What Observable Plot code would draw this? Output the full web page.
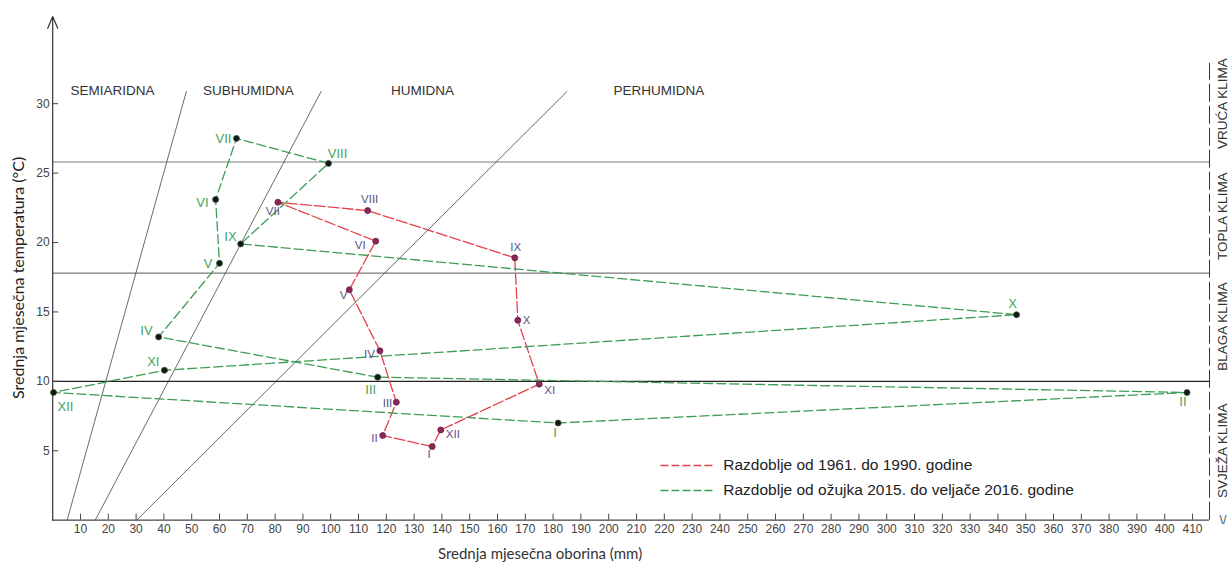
<!DOCTYPE html>
<html><head><meta charset="utf-8">
<script src="https://cdn.jsdelivr.net/npm/d3@7"></script>
<script src="https://cdn.jsdelivr.net/npm/@observablehq/plot@0.6"></script>
<style>body{margin:0;background:#fff} svg{display:block}</style>
</head><body><div id="chart"></div>
<script>
// ---- data ----
const refMonths = ["I","II","III","IV","V","VI","VII","VIII","IX","X","XI","XII"];
const refPrecip = [136.5, 118.7, 123.6, 117.7, 106.7, 116.2, 81.0, 113.3, 166.2, 167.3, 175.0, 139.6];
const refTemp   = [5.3, 6.1, 8.5, 12.2, 16.6, 20.1, 22.9, 22.3, 18.9, 14.4, 9.8, 6.5];

const curMonths = ["III","IV","V","VI","VII","VIII","IX","X","XI","XII","I","II"];
const curPrecip = [116.9, 38.1, 60.0, 58.6, 66.1, 99.2, 67.6, 346.7, 40.2, 0.3, 181.8, 408.0];
const curTemp   = [10.3, 13.2, 18.5, 23.1, 27.5, 25.7, 19.9, 14.8, 10.8, 9.2, 7.0, 9.2];

const tempBoundsGray = [25.8, 17.8];
const tempBoundBlack = [10];
const zoneLineP0 = [5.2, 15.3, 30.2];
const zoneLineP1 = [48.1, 96.6, 185.1];
const zoneLineTopT = 30.9;
const zoneNames = ["SEMIARIDNA", "SUBHUMIDNA", "HUMIDNA", "PERHUMIDNA"];
const climateNames = ["VRUĆA KLIMA", "TOPLA KLIMA", "BLAGA KLIMA", "SVJEŽA KLIMA"];
const xTicks = d3.range(10, 411, 10);
const yTicks = [5, 10, 15, 20, 25, 30];
const legendNames = ["Razdoblje od 1961. do 1990. godine", "Razdoblje od ožujka 2015. do veljače 2016. godine"];
const xTitle = "Srednja mjesečna oborina (mm)";
const yTitle = "Srednja mjesečna temperatura (°C)";

// ---- layout (not data) ----
const X_MAX = 416.1, Y_MAX = 36.28;
const zoneLabelPos = {x: [21.5, 70.4, 133, 218], y: 30.95};
const climateLabelPos = {x: 421.0, y: [30.0, 21.9, 13.95, 5.0]};
const legendPos = {x1: 218.6, x2: 238.4, textX: 241.2, y: [3.94, 2.14]};
const refPlace = {I:[-3,8,"m"], II:[-5,3,"e"], III:[-4,1,"e"], IV:[-5,3,"e"], V:[-2,6,"e"], VI:[-10,4,"e"],
  VII:[-5,9,"m"], VIII:[2,-11,"m"], IX:[1,-10,"m"], X:[5,0,"s"], XI:[5,6,"s"], XII:[5,4,"s"]};
const curPlace = {VII:[-5,0,"e"], VIII:[9,-10,"m"], VI:[-7,3,"e"], IX:[-4,-7,"e"], V:[-7,0,"e"], IV:[-6,-6,"e"],
  XI:[-5,-8,"e"], XII:[4,14,"s"], III:[-7,13,"m"], I:[-3,10,"m"], X:[-4,-11,"m"], II:[-4,9,"m"]};
const anchorMap = {m:"middle", s:"start", e:"end"};

const RED = "#e4414d", GREEN = "#3d9c55";
const refRows = refMonths.map((m, i) => ({m, p: refPrecip[i], t: refTemp[i]}));
const curRows = curMonths.map((m, i) => ({m, p: curPrecip[i], t: curTemp[i]}));
const closed = rows => rows.concat([rows[0]]);

const labelMarks = (rows, table, opts) => rows.map(r => {
  const [dx, dy, a] = table[r.m];
  return Plot.text([r], {x: "p", y: "t", text: "m", dx, dy, textAnchor: anchorMap[a], ...opts});
});

const plot = Plot.plot({
  width: 1231, height: 565,
  marginLeft: 52.2, marginRight: 22, marginTop: 16, marginBottom: 45.3,
  x: {domain: [0, X_MAX], axis: null},
  y: {domain: [0, Y_MAX], axis: null},
  style: {fontFamily: "'Liberation Sans', Arial, sans-serif", background: "#fff", overflow: "hidden"},
  marks: [
    Plot.ruleY(tempBoundsGray, {stroke: "#7a7a7a", strokeWidth: 1.2}),
    Plot.ruleY(tempBoundBlack, {stroke: "#222", strokeWidth: 1.1}),
    Plot.link(d3.range(zoneLineP0.length), {x1: i => zoneLineP0[i], y1: 0, x2: i => zoneLineP1[i], y2: zoneLineTopT, stroke: "#444", strokeWidth: 0.8}),
    Plot.ruleY([0], {stroke: "#444", strokeWidth: 1.2}),
    Plot.arrow([0], {x1: 0, y1: 0, x2: 0, y2: Y_MAX, headLength: 16, headAngle: 46, stroke: "#333", strokeWidth: 1.2}),
    Plot.ruleX([X_MAX], {y1: 0, y2: 32.9, stroke: "#333", strokeWidth: 1, strokeDasharray: "18,4"}),
    Plot.ruleX(xTicks, {y1: 0, y2: 0, insetTop: -6, stroke: "#444"}),
    Plot.ruleY(yTicks, {x1: 0, x2: 0, insetRight: -6, stroke: "#444"}),
    Plot.axisX({ticks: xTicks, tickSize: 0, tickPadding: 4, fontSize: 12, fill: "#444", label: null}),
    Plot.axisY({ticks: yTicks, tickSize: 0, tickPadding: 3, fontSize: 12, fill: "#444", label: null}),
    // series
    Plot.line(closed(refRows), {x: "p", y: "t", stroke: RED, strokeWidth: 1.3, strokeDasharray: "11,3"}),
    Plot.line(closed(curRows), {x: "p", y: "t", stroke: GREEN, strokeWidth: 1.3, strokeDasharray: "9,4"}),
    Plot.dot(refRows, {x: "p", y: "t", r: 3, fill: "#8c2657", stroke: "#6a1f48", strokeWidth: 0.8}),
    Plot.dot(curRows, {x: "p", y: "t", r: 3, fill: "#151515", stroke: "#2c5a36", strokeWidth: 0.8}),
    ...labelMarks(refRows, refPlace, {fontSize: 11.5, fill: "#5b5085"}),
    ...labelMarks(curRows, curPlace, {fontSize: 13, fill: "#45a360"}),
    // zone labels
    Plot.text(zoneNames, {x: (d, i) => zoneLabelPos.x[i], y: zoneLabelPos.y, text: d => d, fontSize: 13.5, fill: "#333"}),
    Plot.text(climateNames, {x: climateLabelPos.x, y: (d, i) => climateLabelPos.y[i], text: d => d, rotate: -90, fontSize: 13.5, fill: "#333"}),
    Plot.text(["\\/"], {x: climateLabelPos.x, y: 0, text: d => d, fontSize: 13, fill: "#555"}),
    // titles
    Plot.text([xTitle], {x: 175.3, y: -2.45, text: d => d, fontSize: 15, fill: "#333", fontFamily: "Lato"}),
    Plot.text([yTitle], {x: -12.3, y: 17.45, text: d => d, rotate: -90, fontSize: 16, fill: "#222", fontFamily: "Lato"}),
    // legend
    Plot.link([0, 1], {x1: legendPos.x1, x2: legendPos.x2, y1: i => legendPos.y[i], y2: i => legendPos.y[i],
      stroke: i => [RED, GREEN][i], strokeWidth: 1.4, strokeDasharray: "8,3"}),
    Plot.text(legendNames, {x: legendPos.textX, y: (d, i) => legendPos.y[i], text: d => d, textAnchor: "start", fontSize: 15.5, fill: "#222"})
  ]
});
document.getElementById("chart").append(plot);
</script>
</body></html>
